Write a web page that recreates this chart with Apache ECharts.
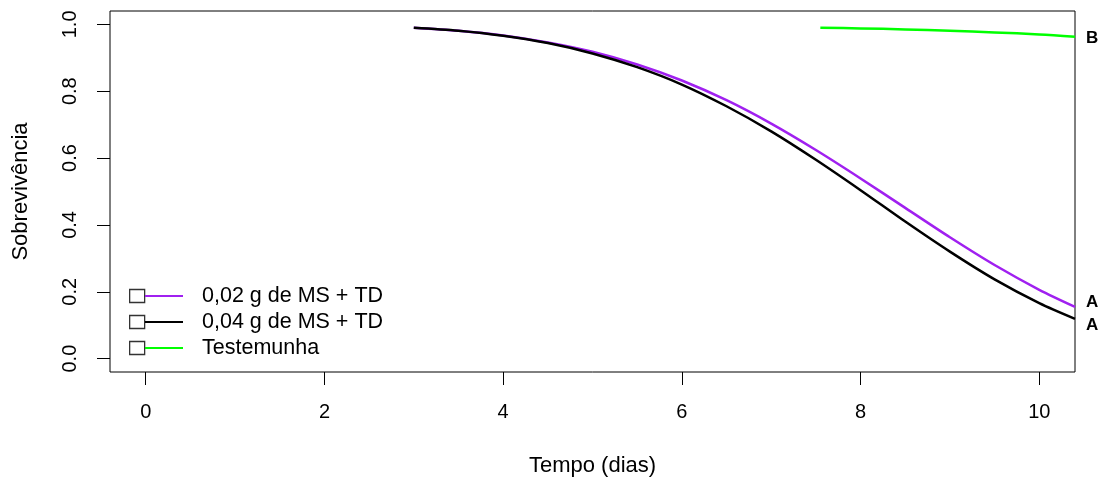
<!DOCTYPE html>
<html>
<head>
<meta charset="utf-8">
<script src="https://cdn.jsdelivr.net/npm/echarts@6/dist/echarts.min.js"></script>
<style>
  html, body { margin: 0; padding: 0; background: #fff; }
  #chart { width: 1103px; height: 477px; }
</style>
</head>
<body>
<div id="chart"></div>
<script>
// tempo (dias) para as duas doses de MS + TD
const tempos = [3, 3.5, 4, 4.5, 5, 5.5, 6, 6.5, 7, 7.5, 8, 8.5, 9, 9.5, 10, 10.4]
const sobrev002 = [0.990, 0.981, 0.967, 0.946, 0.918, 0.880, 0.832, 0.773, 0.703, 0.624, 0.539, 0.451, 0.363, 0.280, 0.206, 0.155]
const sobrev004 = [0.990, 0.981, 0.966, 0.944, 0.913, 0.872, 0.820, 0.755, 0.680, 0.595, 0.504, 0.410, 0.320, 0.237, 0.166, 0.119]
// testemunha
const temposTest = [7.55, 8, 8.5, 9, 9.5, 10, 10.4]
const sobrevTest = [0.990, 0.988, 0.985, 0.981, 0.976, 0.970, 0.963]

const nomes = ['0,02 g de MS + TD', '0,04 g de MS + TD', 'Testemunha']
const letras = ['A', 'A', 'B']
const xTicks = [0, 2, 4, 6, 8, 10]
const yTicks = [0, 0.2, 0.4, 0.6, 0.8, 1.0]

const fonte = "'Liberation Sans', Arial, Helvetica, sans-serif"

const pares = (xs, ys) => xs.map((x, i) => [x, ys[i]])

const linha = (nome, cor, dados, letra, offset) => ({
  name: nome,
  type: 'line',
  data: dados,
  smooth: 0.3,
  symbol: 'none',
  lineStyle: { color: cor, width: 2.5 },
  itemStyle: { color: cor },
  endLabel: {
    show: true,
    formatter: letra,
    distance: 11,
    offset: offset,
    color: '#000',
    fontWeight: 'bold',
    fontSize: 17,
    fontFamily: fonte
  }
})

const chart = echarts.init(document.getElementById('chart'))

chart.setOption({
  animation: false,
  grid: {
    left: 110,
    right: 28,
    top: 11,
    bottom: 105,
    outerBoundsMode: 'none',
    containLabel: false,
    show: true,
    borderColor: '#000',
    borderWidth: 1
  },
  // legenda: quadradinhos + linhas
  legend: [
    {
      data: nomes,
      orient: 'vertical',
      left: 129,
      top: 285,
      padding: 0,
      itemWidth: 15,
      itemHeight: 13,
      itemGap: 4,
      icon: 'rect',
      selectedMode: false,
      itemStyle: { color: '#fff', borderColor: '#333', borderWidth: 1.3 },
      textStyle: { color: 'transparent', fontSize: 21.5, lineHeight: 21, fontFamily: fonte }
    },
    {
      data: nomes,
      orient: 'vertical',
      left: 145,
      top: 285,
      padding: 0,
      itemWidth: 52,
      itemHeight: 14,
      itemGap: 4,
      icon: 'path://M0,0 M52,14 M0,6 H38 V8 H0 Z',
      selectedMode: false,
      itemStyle: { borderWidth: 0 },
      textStyle: { color: '#000', fontSize: 21.5, lineHeight: 21, fontFamily: fonte }
    }
  ],
  xAxis: {
    type: 'value',
    min: -0.4,
    max: 10.4,
    name: 'Tempo (dias)',
    nameLocation: 'middle',
    nameGap: 83,
    nameTextStyle: { color: '#000', fontSize: 22, fontFamily: fonte },
    axisLine: { show: false, onZero: false },
    axisTick: { show: true, length: 13, customValues: xTicks, lineStyle: { color: '#000' } },
    axisLabel: {
      customValues: xTicks,
      margin: 30,
      color: '#000',
      fontSize: 20,
      fontFamily: fonte
    },
    splitLine: { show: false }
  },
  yAxis: {
    type: 'value',
    min: -0.04,
    max: 1.04,
    name: 'Sobrevivência',
    nameLocation: 'middle',
    nameGap: 78,
    nameTextStyle: { color: '#000', fontSize: 22, fontFamily: fonte },
    axisLine: { show: false, onZero: false },
    axisTick: { show: true, length: 13, customValues: yTicks, lineStyle: { color: '#000' } },
    axisLabel: {
      customValues: yTicks,
      rotate: 90,
      margin: 30,
      color: '#000',
      fontSize: 20,
      fontFamily: fonte,
      formatter: v => v.toFixed(1)
    },
    splitLine: { show: false }
  },
  series: [
    linha(nomes[0], '#A020F0', pares(tempos, sobrev002), letras[0], [0, -5]),
    linha(nomes[1], '#000000', pares(tempos, sobrev004), letras[1], [0, 6]),
    linha(nomes[2], '#00FF00', pares(temposTest, sobrevTest), letras[2], [0, 2])
  ]
})
</script>
</body>
</html>
